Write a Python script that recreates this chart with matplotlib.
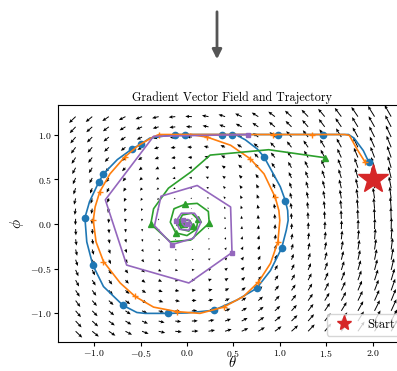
import numpy as np
import matplotlib
matplotlib.use("Agg")
import matplotlib.pyplot as plt

plt.rcParams['font.family'] = 'serif'
plt.rcParams['font.serif'] = ['cmr10', 'DejaVu Serif']
plt.rcParams['mathtext.fontset'] = 'cm'
plt.rcParams['axes.formatter.use_mathtext'] = True

# vector field grid
grid_theta = np.linspace(-1.2, 2.2, 20)
grid_phi = np.linspace(-1.2, 1.2, 22)

start_theta = [2.0]
start_phi = [0.5]

# trajectories
blue_theta = [1.96, 1.90, 1.80, 1.74, 1.47, 0.98, 0.49, 0.38, -0.02, -0.13,
              -0.40, -0.50, -0.59, -0.75, -0.90, -0.95, -1.05, -1.10, -1.08, -1.015,
              -0.90, -0.69, -0.54, -0.45, -0.20, 0.00, 0.29, 0.54, 0.75, 0.90,
              1.02, 1.07, 1.09, 1.085, 1.06, 1.006, 0.93, 0.83, 0.755, 0.63, 0.54]
blue_phi = [0.69, 0.82, 0.96, 1.00, 1.00, 1.00, 1.00, 1.00, 1.00, 1.00,
            0.96, 0.89, 0.84, 0.72, 0.56, 0.47, 0.25, 0.07, -0.20, -0.46,
            -0.70, -0.91, -0.99, -1.00, -1.00, -0.995, -0.965, -0.85, -0.72, -0.52,
            -0.27, -0.07, 0.04, 0.15, 0.26, 0.415, 0.56, 0.75, 0.84, 0.94, 0.99]
blue_marks = [0, 4, 5, 6, 7, 8, 9, 11, 12, 14, 15, 17, 19, 21, 24, 26, 28, 30, 34, 37]

orange_theta = [1.92, 1.83, 1.75, 1.70, 1.35, 0.93, -0.30, -0.37, -0.52, -0.67,
                -0.83, -0.94, -0.99, -1.01, -0.98, -0.90, -0.72, -0.56, -0.36, -0.11,
                0.14, 0.395, 0.61, 0.77, 0.90, 0.98, 1.00, 0.99, 0.95, 0.83,
                0.68, 0.47, 0.22, 0.04]
orange_phi = [0.69, 0.84, 0.99, 1.00, 1.00, 1.00, 1.00, 0.97, 0.88, 0.75,
              0.56, 0.36, 0.19, 0.04, -0.20, -0.42, -0.66, -0.81, -0.93, -0.98,
              -1.00, -0.93, -0.81, -0.65, -0.44, -0.20, 0.04, 0.15, 0.30, 0.56,
              0.73, 0.88, 0.97, 1.00]
orange_marks = [0, 4, 5, 6, 9, 11, 13, 15, 17, 19, 21, 23, 25, 28, 30, 32]

green_theta = [1.49, 0.88, 0.25, 0.04, -0.20, -0.36, -0.39, -0.18, 0.04, 0.24,
               0.23, 0.11, -0.02, -0.14, -0.18, -0.12, 0.00, 0.10, 0.12, 0.05,
               -0.05, -0.09, -0.06, 0.02, 0.06, 0.03, -0.02, -0.03, 0.0]
green_phi = [0.74, 0.83, 0.77, 0.58, 0.40, 0.17, 0.00, -0.20, -0.18, 0.01,
             0.14, 0.23, 0.22, 0.17, 0.02, -0.10, -0.13, -0.06, 0.05, 0.12,
             0.10, 0.02, -0.06, -0.08, -0.02, 0.04, 0.04, 0.0, -0.01]
green_marks = [0, 6, 9, 12, 15, 18, 21, 24, 27]

purple_theta = [0.66, -0.36, -0.88, -0.65, 0.02, 0.485, 0.47, 0.11, -0.28, -0.35,
                -0.16, 0.07, 0.15, 0.08, -0.06, -0.12, -0.08, 0.02, 0.05, 0.01,
                -0.04, -0.05, -0.02, 0.0]
purple_phi = [1.00, 0.98, 0.27, -0.46, -0.66, -0.32, 0.19, 0.43, 0.31, -0.02,
              -0.23, -0.16, 0.02, 0.12, 0.12, 0.03, -0.06, -0.07, 0.0, 0.05,
              0.04, 0.0, -0.03, 0.0]
purple_marks = [0, 5, 10, 15, 20, 23]

fig = plt.figure(figsize=(3.97, 3.71), dpi=100)
ax = fig.add_axes([58 / 397, 29 / 371, 348 / 397, 237 / 371])

TH, PH = np.meshgrid(grid_theta, grid_phi)
ax.quiver(TH, PH, -PH, TH, angles='xy', scale_units='xy', scale=17,
          width=0.0028, headwidth=3.5, headlength=4, headaxislength=3.5, color='k')

lw = 1.2
ax.plot(blue_theta, blue_phi, '-o', color='C0', lw=lw, ms=4.5, markevery=blue_marks)
ax.plot(orange_theta, orange_phi, '-+', color='C1', lw=lw, ms=5, markevery=orange_marks)
ax.plot(green_theta, green_phi, '-^', color='C2', lw=lw, ms=4.5, markevery=green_marks)
ax.plot(purple_theta, purple_phi, '-s', color='C4', lw=lw, ms=3.5, markevery=purple_marks)
ax.plot(start_theta, start_phi, '*', color='C3', ms=22, label='Start', linestyle='none')

ax.set_xlim(-1.39, 2.36)
ax.set_ylim(-1.32, 1.33)
ax.set_xticks([-1.0, -0.5, 0.0, 0.5, 1.0, 1.5, 2.0])
ax.set_yticks([-1.0, -0.5, 0.0, 0.5, 1.0])
ax.tick_params(labelsize=7, length=3, pad=1.5)
ax.set_title('Gradient Vector Field and Trajectory', fontsize=8.7, pad=3)
ax.set_xlabel(r'$\theta$', fontsize=10.5, va='center')
ax.xaxis.set_label_coords(0.5, -0.088)
ax.set_ylabel(r'$\phi$', fontsize=11, labelpad=3)
ax.legend(loc='lower right', fontsize=9, markerscale=0.5, fancybox=True)

ax.annotate('', xy=(217 / 397, 1 - 62 / 371), xytext=(217 / 397, 1 - 9 / 371),
            xycoords='figure fraction',
            arrowprops=dict(arrowstyle='-|>', color='#555555', lw=2, mutation_scale=14))

fig.savefig('out.png', dpi=100)
